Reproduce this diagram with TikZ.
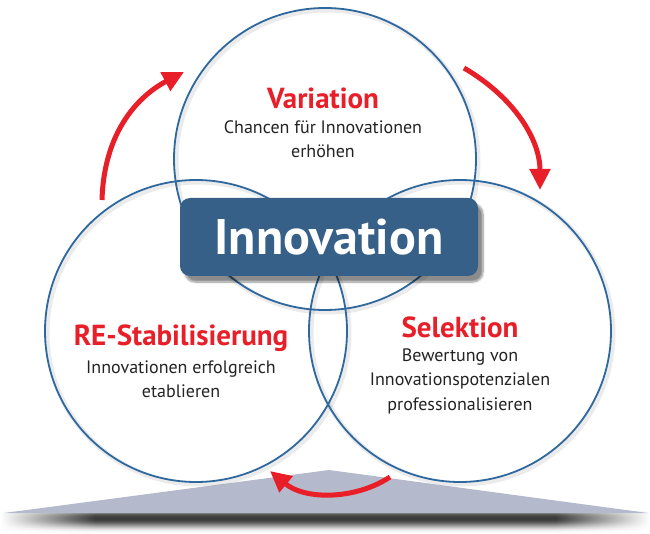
\documentclass[tikz,border=0pt]{standalone}
\usepackage{fontspec}
\setmainfont{PT Sans}
\usetikzlibrary{arrows.meta,shadows.blur}
\definecolor{ringblue}{RGB}{46,104,158}
\definecolor{boxblue}{RGB}{54,96,136}
\definecolor{arrred}{RGB}{232,30,40}
\definecolor{pyramid}{RGB}{180,186,203}
\definecolor{txtgray}{RGB}{35,35,35}
\begin{document}
\begin{tikzpicture}[x=1pt,y=-1pt,
  ring/.style={draw=ringblue, line width=1.8pt, circle, minimum size=302pt, inner sep=0pt},
  ringshadow/.style={draw=black, opacity=0.08, line width=5pt, circle, minimum size=302pt, inner sep=0pt},
  cyclearrow/.style={draw=arrred, line width=5pt, -{Triangle[width=20pt,length=21pt]}},
  heading/.style={text=arrred, font=\bfseries\fontsize{29}{31}\selectfont, inner sep=0pt},
  body/.style={text=txtgray, font=\fontsize{18}{24.5}\selectfont, align=center, inner sep=0pt},
  centerbox/.style={fill=boxblue, rounded corners=10pt, minimum width=298pt, minimum height=78pt,
     text=white, font=\bfseries\fontsize{50}{52}\selectfont,
     blur shadow={shadow xshift=5pt, shadow yshift=-6pt, shadow blur steps=8, shadow opacity=45}}
  ]
\useasboundingbox (0,0) rectangle (650,534);
% shadow under the pyramid, row by row
\foreach \yy/\pp in {511/25,512/42,513/55,514/64,515/70,516/74,517/76,518/77,519/76,520/74,521/70,522/64,523/57,524/49,525/41,526/33,527/25,528/18,529/12,530/7,531/4,532/2}{
  \colorlet{rowc}{black!\pp}
  \shade[left color=white, right color=rowc] (0,\yy) rectangle (95,\yy+1.1);
  \fill[rowc] (94.5,\yy) rectangle (555.5,\yy+1.1);
  \shade[left color=rowc, right color=white] (555,\yy) rectangle (650,\yy+1.1);
}
% pyramid
\fill[pyramid] (4,513) -- (329,470) -- (648,513) -- cycle;
% ring shadows
\node[ringshadow] at (327,161) {};
\node[ringshadow] at (198,333) {};
\node[ringshadow] at (462,333) {};
% rings
\node[ring] (var) at (325,159) {};
\node[ring] (stab) at (196,331) {};
\node[ring] (sel) at (460,331) {};
% center box
\node[centerbox] (inno) at (329,237) {Innovation};
% texts
\node[heading] (varh) at (323,98) {Variation};
\node[body] (vart) at (323,139) {Chancen für Innovationen\\erhöhen};
\node[heading] (stabh) at (181,338) {RE-Stabilisierung};
\node[body] (stabt) at (181,379) {Innovationen erfolgreich\\etablieren};
\node[heading] (selh) at (460,327) {Selektion};
\node[body] (selt) at (460,381) {Bewertung von\\Innovationspotenzialen\\professionalisieren};
% arrows
\coordinate (a1s) at (102,200);
\coordinate (a1e) at (184,72);
\coordinate (a2s) at (464,68);
\coordinate (a2e) at (540,190);
\coordinate (a3s) at (390,477);
\coordinate (a3e) at (270,471);
\draw[cyclearrow] (a1s) .. controls (104,130) and (140,95) .. (a1e);
\draw[cyclearrow] (a2s) .. controls (515,98) and (540,140) .. (a2e);
\draw[cyclearrow] (a3s) .. controls (355,500) and (305,500) .. (a3e);
\end{tikzpicture}
\end{document}
